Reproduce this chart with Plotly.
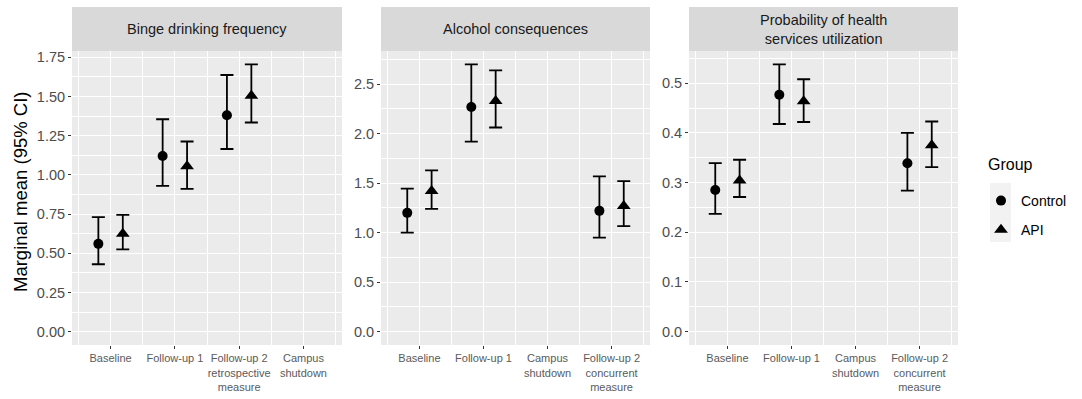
import plotly.graph_objects as go

# ---------------- data ----------------
groups = ["Control", "API"]
legend_title = "Group"

p1_title = "Binge drinking frequency"
p1_cats = ["Baseline", "Follow-up 1", "Follow-up 2<br>retrospective<br>measure", "Campus<br>shutdown"]
p1_ctrl_mean = [0.56, 1.12, 1.38, None]
p1_ctrl_low = [0.43, 0.93, 1.165, None]
p1_ctrl_up = [0.73, 1.355, 1.637, None]
p1_api_mean = [0.625, 1.055, 1.505, None]
p1_api_low = [0.525, 0.911, 1.334, None]
p1_api_up = [0.745, 1.213, 1.705, None]

p2_title = "Alcohol consequences"
p2_cats = ["Baseline", "Follow-up 1", "Campus<br>shutdown", "Follow-up 2<br>concurrent<br>measure"]
p2_ctrl_mean = [1.20, 2.27, None, 1.22]
p2_ctrl_low = [1.00, 1.92, None, 0.95]
p2_ctrl_up = [1.445, 2.70, None, 1.568]
p2_api_mean = [1.42, 2.33, None, 1.27]
p2_api_low = [1.24, 2.062, None, 1.066]
p2_api_up = [1.63, 2.64, None, 1.52]

p3_title = "Probability of health<br>services utilization"
p3_cats = ["Baseline", "Follow-up 1", "Campus<br>shutdown", "Follow-up 2<br>concurrent<br>measure"]
p3_ctrl_mean = [0.285, 0.477, None, 0.339]
p3_ctrl_low = [0.237, 0.418, None, 0.284]
p3_ctrl_up = [0.339, 0.538, None, 0.400]
p3_api_mean = [0.304, 0.464, None, 0.375]
p3_api_low = [0.271, 0.422, None, 0.331]
p3_api_up = [0.346, 0.508, None, 0.423]

y_title = "Marginal mean (95% CI)"

# ---------------- styling ----------------
FONT = "Liberation Sans, Arial, sans-serif"
W, H = 1082, 399
ML, MR, MT, MB = 72, 124, 7, 54
PW = W - ML - MR
PH = H - MT - MB
panel_px = [(72, 342), (381, 650), (689, 958)]
plot_top_px = 51
y_dom_top = (H - MB - plot_top_px) / PH

def px_to_xpaper(px):
    return (px - ML) / PW

def px_to_ypaper(py):
    return (H - MB - py) / PH

panels = [
    dict(title=p1_title, cats=p1_cats,
         ctrl=(p1_ctrl_mean, p1_ctrl_low, p1_ctrl_up), api=(p1_api_mean, p1_api_low, p1_api_up),
         dtick=0.25, fmt=".2f"),
    dict(title=p2_title, cats=p2_cats,
         ctrl=(p2_ctrl_mean, p2_ctrl_low, p2_ctrl_up), api=(p2_api_mean, p2_api_low, p2_api_up),
         dtick=0.5, fmt=".1f"),
    dict(title=p3_title, cats=p3_cats,
         ctrl=(p3_ctrl_mean, p3_ctrl_low, p3_ctrl_up), api=(p3_api_mean, p3_api_low, p3_api_up),
         dtick=0.1, fmt=".1f"),
]

dodge = {"Control": -0.19, "API": 0.19}
symbols = {"Control": "circle", "API": "triangle-up"}
sizes = {"Control": 10, "API": 12}

fig = go.Figure()
shapes = []
annotations = []

for k, p in enumerate(panels):
    ax = "" if k == 0 else str(k + 1)
    xs = "x" + ax
    ys = "y" + ax
    for g in groups:
        mean, low, up = p["ctrl"] if g == "Control" else p["api"]
        idx = [i for i in range(len(mean)) if mean[i] is not None]
        xv = [i + 1 + dodge[g] for i in idx]
        yv = [mean[i] for i in idx]
        eplus = [up[i] - mean[i] for i in idx]
        eminus = [mean[i] - low[i] for i in idx]
        fig.add_trace(go.Scatter(
            x=xv, y=yv, mode="markers", name=g, legendgroup=g,
            showlegend=(k == 0), xaxis=xs, yaxis=ys,
            marker=dict(symbol=symbols[g], size=sizes[g], color="black"),
            error_y=dict(type="data", symmetric=False, array=eplus, arrayminus=eminus,
                         color="black", thickness=1.8, width=6.5),
        ))
    x0p, x1p = panel_px[k]
    dom = [px_to_xpaper(x0p), px_to_xpaper(x1p)]
    allup = [v for v in p["ctrl"][2] + p["api"][2] if v is not None]
    ymax = max(allup)
    yr = [-0.05 * ymax, 1.05 * ymax]
    fig.layout["xaxis" + ax] = dict(
        domain=dom, anchor=ys, range=[0.4, 4.6],
        tickmode="array", tickvals=[1, 2, 3, 4], ticktext=p["cats"],
        showgrid=True, gridcolor="white", gridwidth=1.4,
        minor=dict(tickvals=[0.5, 1.5, 2.5, 3.5, 4.5], showgrid=True, gridcolor="white",
                   gridwidth=0.7, ticks=""),
        ticks="outside", ticklen=3, tickwidth=1.1, tickcolor="#333333",
        tickfont=dict(family=FONT, size=11, color="#5a5a5a"),
        zeroline=False, showline=False, fixedrange=True, automargin=False,
    )
    fig.layout["yaxis" + ax] = dict(
        domain=[0, y_dom_top], anchor=xs, range=yr,
        tick0=0, dtick=p["dtick"], tickformat=p["fmt"],
        showgrid=True, gridcolor="white", gridwidth=1.4,
        minor=dict(dtick=p["dtick"] / 2, tick0=0, showgrid=True, gridcolor="white",
                   gridwidth=0.7, ticks=""),
        ticks="outside", ticklen=3, tickwidth=1.1, tickcolor="#333333",
        tickfont=dict(family=FONT, size=14.5, color="#4d4d4d"),
        zeroline=False, showline=False, fixedrange=True, automargin=False,
    )
    shapes.append(dict(type="rect", xref="paper", yref="paper",
                       x0=dom[0], x1=dom[1], y0=y_dom_top, y1=1.0,
                       fillcolor="#d9d9d9", line=dict(width=0), layer="below"))
    annotations.append(dict(text=p["title"], xref="paper", yref="paper",
                            x=(dom[0] + dom[1]) / 2, y=px_to_ypaper(29),
                            xanchor="center", yanchor="middle", showarrow=False,
                            font=dict(family=FONT, size=14.5, color="#1a1a1a")))

# legend key background
shapes.append(dict(type="rect", xref="paper", yref="paper",
                   x0=px_to_xpaper(990), x1=px_to_xpaper(1011),
                   y0=px_to_ypaper(242), y1=px_to_ypaper(183),
                   fillcolor="#f2f2f2", line=dict(width=0), layer="below"))

annotations.append(dict(text=y_title, xref="paper", yref="paper",
                        x=px_to_xpaper(20), y=px_to_ypaper(192), textangle=-90,
                        xanchor="center", yanchor="middle", showarrow=False,
                        font=dict(family=FONT, size=18.5, color="black")))

annotations.append(dict(text=legend_title, xref="paper", yref="paper",
                        x=px_to_xpaper(986), y=px_to_ypaper(165),
                        xanchor="left", yanchor="middle", showarrow=False,
                        font=dict(family=FONT, size=16, color="black")))

fig.update_layout(
    width=W, height=H,
    margin=dict(l=ML, r=MR, t=MT, b=MB, pad=0, autoexpand=False),
    paper_bgcolor="white", plot_bgcolor="#ebebeb",
    font=dict(family=FONT),
    shapes=shapes, annotations=annotations,
    legend=dict(
        font=dict(family=FONT, size=14, color="black"),
        x=px_to_xpaper(981), xanchor="left",
        y=px_to_ypaper(185), yanchor="top",
        bgcolor="rgba(0,0,0,0)", tracegroupgap=8,
    ),
)

fig.write_html("out.html", config={"displayModeBar": False},
               post_script="document.body.style.margin='0px';document.body.style.overflow='hidden';")
